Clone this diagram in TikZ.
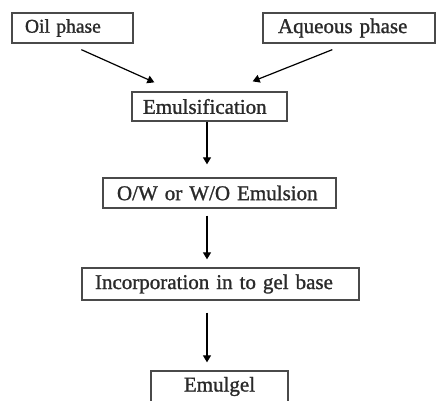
\documentclass[tikz,border=0pt]{standalone}
\usepackage{fontspec}
\setmainfont{Liberation Serif}
\newfontfamily\heavyfont{Liberation Serif}[FakeBold=1.2]
\usetikzlibrary{arrows.meta,calc}
\definecolor{boxline}{HTML}{4A4A4A}
\definecolor{txt}{HTML}{2A2A2A}
\tikzset{
  box/.style={draw=boxline, line width=1.3pt, inner xsep=13pt, inner ysep=0pt,
    minimum height=30pt, align=left, text width=#1, text=txt,
    font=\heavyfont\fontsize{21}{24}\selectfont},
  arr/.style={draw=black, line width=1.2pt, -{Triangle[width=8pt,length=7pt]}}
}
\begin{document}
\begin{tikzpicture}[x=1pt,y=-1pt]
\useasboundingbox (0,0) rectangle (437,400);
\node[box=95pt, font=\heavyfont\fontsize{19.5}{22}\selectfont] (oil) at (72.5,28) {\mbox{Oil phase}};
\node[box=142pt, inner xsep=15pt] (aq) at (349,28) {\mbox{Aqueous phase}};
\node[box=133pt, inner xsep=11pt, minimum height=29pt] (emul) at (209.5,106.5) {\mbox{Emulsification}};
\node[box=205pt, inner xsep=14pt] (ow) at (219.5,193) {\mbox{O/W or W/O Emulsion}};
\node[box=251pt, minimum height=32pt] (inc) at (220.5,284) {\mbox{Incorporation in to gel base}};
\node[box=111pt, align=center, minimum height=31pt] (gel) at (219.5,386.5) {\mbox{Emulgel}};
\coordinate (ax) at (207,0);
\draw[arr] ($(oil.south west)+(70,6)$) -- ($(emul.north west)+(23,-9)$);
\draw[arr] ($(aq.south west)+(70,6)$) -- ($(emul.north east)+(-35,-10)$);
\draw[arr, shorten >=13pt] (emul.south -| ax) -- (ow.north -| ax);
\draw[arr, shorten <=7pt, shorten >=8pt] (ow.south -| ax) -- (inc.north -| ax);
\draw[arr, shorten <=12pt, shorten >=8pt] (inc.south -| ax) -- (gel.north -| ax);
\end{tikzpicture}
\end{document}
